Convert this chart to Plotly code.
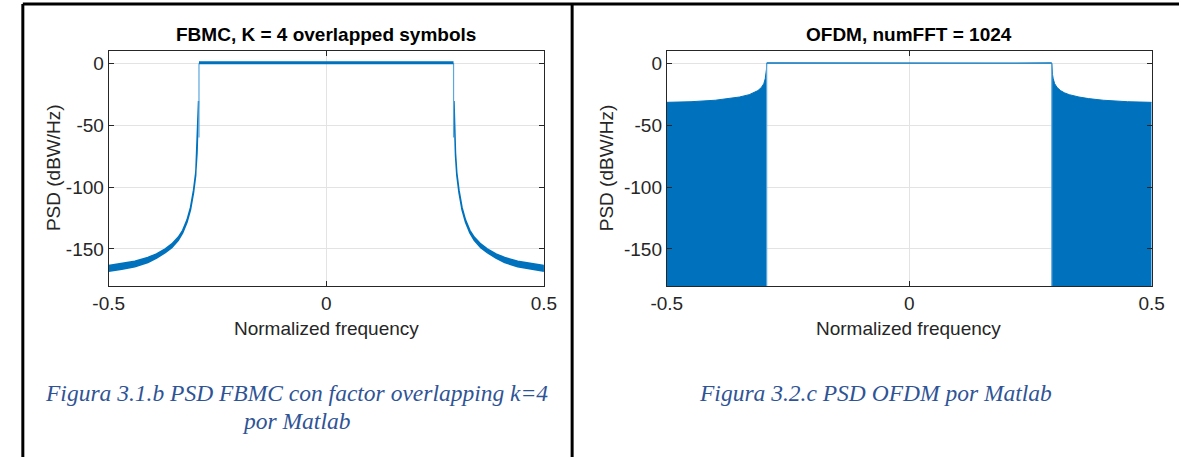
import plotly.graph_objects as go

W, H = 1192, 457
BLUE = "#0072BD"
EDGE_BLUE = "#5ba7de"
AX = "#262626"
GRID = "#e3e3e3"
CAP = "#2F5496"

Y_MIN, Y_MAX = -180, 10
X_MIN, X_MAX = -0.5, 0.5
Y_TICKS = [-150, -100, -50, 0]
X_TICKS = [-0.5, 0, 0.5]
X_TICK_TEXT = ["-0.5", "0", "0.5"]
Y_TICK_TEXT = ["-150", "-100", "-50", "0"]

# ---------------- FBMC (K = 4) ----------------
fbmc_left_freq = [-0.5, -0.47, -0.44, -0.41, -0.39, -0.37, -0.355, -0.34, -0.33, -0.32, -0.312, -0.305, -0.30, -0.297, -0.295, -0.2935]
fbmc_left_upper = [-163.5, -162.0, -160.0, -157.0, -154.0, -150.0, -146.0, -140.5, -135.0, -126.5, -116.5, -102.5, -88.5, -72.5, -55.5, -30.5]
fbmc_left_lower = [-168.0, -166.5, -164.5, -161.0, -157.5, -153.0, -149.0, -143.0, -137.0, -128.5, -118.5, -104.5, -90.5, -74.5, -57.5, -33.0]

fbmc_right_freq = [0.2935, 0.295, 0.297, 0.30, 0.305, 0.312, 0.32, 0.33, 0.34, 0.355, 0.37, 0.39, 0.41, 0.44, 0.47, 0.5]
fbmc_right_upper = [-30.5, -55.5, -72.5, -88.5, -102.5, -116.5, -126.5, -135.0, -140.5, -146.0, -150.0, -154.0, -157.0, -160.0, -162.0, -163.5]
fbmc_right_lower = [-33.0, -57.5, -74.5, -90.5, -104.5, -118.5, -128.5, -137.0, -143.0, -149.0, -153.0, -157.5, -161.0, -164.5, -166.5, -168.0]

fbmc_edge_freq = [-0.2925, 0.2925]
fbmc_passband_freq = [-0.2925, -0.2, -0.1, 0.0, 0.1, 0.2, 0.2925]
fbmc_passband_db = [0.5, 0.4, 0.6, 0.3, 0.5, 0.4, 0.5]

# ---------------- OFDM (numFFT = 1024) ----------------
ofdm_left_freq = [-0.5, -0.45, -0.40, -0.37, -0.35, -0.33, -0.32, -0.312, -0.305, -0.300, -0.297, -0.2955, -0.2945, -0.294]
ofdm_left_env = [-31.5, -31.0, -29.8, -28.5, -27.2, -25.3, -23.8, -22.0, -19.5, -16.5, -12.5, -9.0, -5.0, 0.0]
ofdm_right_freq = [0.294, 0.2945, 0.2955, 0.297, 0.300, 0.305, 0.312, 0.32, 0.33, 0.35, 0.37, 0.40, 0.45, 0.5]
ofdm_right_env = [0.0, -5.0, -9.0, -12.5, -16.5, -19.5, -22.0, -23.8, -25.3, -27.2, -28.5, -29.8, -31.0, -31.5]
ofdm_passband_freq = [-0.294, -0.2, -0.1, 0.0, 0.1, 0.2, 0.294]
ofdm_passband_db = [0.3, 0.2, 0.3, 0.1, 0.3, 0.2, 0.3]

fig = go.Figure()

def band(xaxis, yaxis, freq, upper, lower):
    fig.add_trace(go.Scatter(x=freq + freq[::-1], y=upper + lower[::-1], fill="toself",
                             fillcolor=BLUE, line=dict(color=BLUE, width=1.5),
                             mode="lines", xaxis=xaxis, yaxis=yaxis, hoverinfo="skip"))

# FBMC panel
band("x", "y", fbmc_left_freq, fbmc_left_upper, fbmc_left_lower)
band("x", "y", fbmc_right_freq, fbmc_right_upper, fbmc_right_lower)
for f in fbmc_edge_freq:
    fig.add_trace(go.Scatter(x=[f, f], y=[0, -60], mode="lines", line=dict(color=EDGE_BLUE, width=1.2),
                             xaxis="x", yaxis="y", hoverinfo="skip"))
fig.add_trace(go.Scatter(x=fbmc_passband_freq, y=fbmc_passband_db, mode="lines",
                         line=dict(color=BLUE, width=3), xaxis="x", yaxis="y", hoverinfo="skip"))

# OFDM panel
for fr, env in ((ofdm_left_freq, ofdm_left_env), (ofdm_right_freq, ofdm_right_env)):
    fig.add_trace(go.Scatter(x=fr, y=[Y_MIN] * len(fr), mode="lines", line=dict(width=0),
                             xaxis="x2", yaxis="y2", hoverinfo="skip"))
    fig.add_trace(go.Scatter(x=fr, y=env, mode="lines", fill="tonexty", fillcolor=BLUE,
                             line=dict(color=BLUE, width=1), xaxis="x2", yaxis="y2", hoverinfo="skip"))
for f in (ofdm_left_freq[-1], ofdm_right_freq[0]):
    fig.add_trace(go.Scatter(x=[f, f], y=[Y_MIN, 0], mode="lines", line=dict(color=EDGE_BLUE, width=1.2),
                             xaxis="x2", yaxis="y2", hoverinfo="skip"))
fig.add_trace(go.Scatter(x=ofdm_passband_freq, y=ofdm_passband_db, mode="lines",
                         line=dict(color=BLUE, width=1.4), xaxis="x2", yaxis="y2", hoverinfo="skip"))

SANS = "Liberation Sans, Arial"
SERIF = "Liberation Serif, Cambria, serif"
TICKFONT = dict(family=SANS, size=19, color=AX)

def xax(domain, anchor):
    return dict(domain=domain, anchor=anchor, range=[X_MIN, X_MAX], tickvals=X_TICKS, ticktext=X_TICK_TEXT,
                showline=True, linecolor=AX, linewidth=1, mirror="allticks", ticks="inside", ticklen=5,
                tickcolor=AX, showgrid=True, gridcolor=GRID, gridwidth=1, zeroline=False,
                tickfont=TICKFONT, fixedrange=True)

def yax(anchor):
    return dict(domain=[(H - 286) / H, (H - 51) / H], anchor=anchor, range=[Y_MIN, Y_MAX],
                tickvals=Y_TICKS, ticktext=Y_TICK_TEXT,
                showline=True, linecolor=AX, linewidth=1, mirror="allticks", ticks="inside", ticklen=5,
                tickcolor=AX, showgrid=True, gridcolor=GRID, gridwidth=1, zeroline=False,
                tickfont=TICKFONT, fixedrange=True)

fig.update_layout(
    width=W, height=H, margin=dict(l=0, r=0, t=0, b=0),
    paper_bgcolor="white", plot_bgcolor="white", showlegend=False,
    xaxis=xax([95 / W, 541 / W], "y"), yaxis=yax("x"),
    xaxis2=xax([667 / W, 1164 / W], "y2"), yaxis2=yax("x2"),
)

def px(x): return x / W
def py(y): return 1 - y / H

shapes = [
    dict(type="line", xref="paper", yref="paper", x0=px(7), x1=px(W), y0=py(4), y1=py(4), line=dict(color="black", width=3)),
    dict(type="line", xref="paper", yref="paper", x0=px(7), x1=px(7), y0=py(4), y1=py(H + 5), line=dict(color="black", width=3)),
    dict(type="line", xref="paper", yref="paper", x0=px(570), x1=px(570), y0=py(4), y1=py(H + 5), line=dict(color="black", width=3)),
]
fig.update_layout(shapes=shapes)

ann = []
def text(x, y, s, size, color, family, bold=False, italic=False, angle=0):
    if bold:
        s = "<b>" + s + "</b>"
    if italic:
        s = "<i>" + s + "</i>"
    ann.append(dict(x=px(x), y=py(y), xref="paper", yref="paper", text=s, showarrow=False,
                    font=dict(size=size, color=color, family=family), textangle=angle,
                    xanchor="center", yanchor="middle"))

text(318, 35, "FBMC, K = 4 overlapped symbols", 19, "black", SANS, bold=True)
text(915, 35, "OFDM, numFFT = 1024", 19, "black", SANS, bold=True)
text(38, 168, "PSD (dBW/Hz)", 19, AX, SANS, angle=-90)
text(605, 168, "PSD (dBW/Hz)", 19, AX, SANS, angle=-90)
text(318, 328, "Normalized frequency", 19, AX, SANS)
text(915, 328, "Normalized frequency", 19, AX, SANS)
text(288, 393, "Figura 3.1.b PSD FBMC con factor overlapping k=4", 23.5, CAP, SERIF, italic=True)
text(288, 421, "por Matlab", 23.5, CAP, SERIF, italic=True)
text(881, 393, "Figura 3.2.c PSD OFDM por Matlab", 23.5, CAP, SERIF, italic=True)
fig.update_layout(annotations=ann)

fig.write_html("out.html")
